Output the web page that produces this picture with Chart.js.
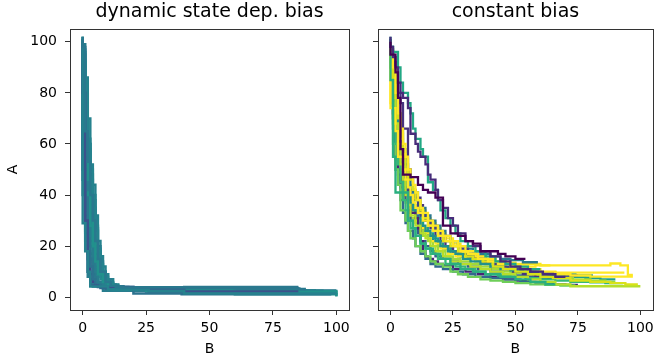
<!DOCTYPE html>
<html>
<head>
<meta charset="utf-8">
<script src="https://cdn.jsdelivr.net/npm/chart.js@4/dist/chart.umd.min.js"></script>
<style>
    body { margin: 0; background: #fff; }
    #wrap { position: relative; width: 659px; height: 360px; overflow: hidden; }
    canvas { position: absolute; top: 0; }
</style>
</head>
<body>
<div id="wrap">
    <canvas id="dynamicChart" style="left:0px"></canvas>
    <canvas id="constantChart" style="left:355px"></canvas>
</div>
<script>
// Tick labels
const xTicks = [0, 25, 50, 75, 100];
const yTicks = [0, 20, 40, 60, 80, 100];

// Panel titles
const dynamicTitle = 'dynamic state dep. bias';
const constantTitle = 'constant bias';

// Runs for "dynamic state dep. bias": [B, A] corner points (drop to A, then move right to B)
const dynamicRuns = [
    [[0,102],[1,98],[1,77],[2,65],[3,53],[4,40],[5,30],[6,22],[7,15],[9,10],[11,6],[13,4.5],[16,4],[60,3.8],[85,3.5],[88,3.2]],
    [[0,101],[0,29],[1,29],[1,20],[2,18],[2,10],[3,10],[3,4.5],[10,4.2],[26,3],[40,2.5],[100,1.5]],
    [[0,100],[0,88],[1,80],[1,45],[2,30],[2,17],[3,10],[3,5],[6,4.5],[20,4],[40,3.2],[75,2.2],[85,2.2]],
    [[0,100],[1,92],[1,70],[2,58],[3,46],[3,35],[4,28],[5,20],[6,14],[8,9],[10,6],[12,4.8],[25,3],[60,2.5],[100,2],[100,0.5]],
    [[0,99],[0,80],[1,66],[2,50],[3,42],[3,30],[4,24],[5,16],[6,10],[8,6],[10,4.5],[30,3.8],[55,3.5],[80,3.3]],
    [[0,101],[1,95],[2,86],[2,74],[3,62],[4,52],[4,42],[5,35],[6,26],[7,18],[8,12],[10,8],[12,5.5],[16,4],[40,3.5],[70,3],[95,2.5]],
    [[0,100],[0,60],[1,50],[1,38],[2,26],[3,18],[4,12],[5,7],[7,4.5],[20,3.6],[39,1.5],[98,1.2]],
    [[0,102],[1,90],[1,62],[2,52],[3,40],[4,32],[5,25],[6,20],[7,14],[9,10],[10,7],[12,5],[15,4],[45,3],[70,2.6],[100,2.4],[100,1]],
    [[0,100],[0,70],[1,60],[2,48],[2,36],[3,28],[4,20],[5,14],[6,9],[8,6],[11,4.2],[30,3.2],[65,2.8],[92,2.6]],
    [[0,101],[1,93],[2,80],[3,70],[3,56],[4,46],[5,38],[5,28],[6,22],[7,16],[8,11],[9,8],[11,6],[13,4.6],[20,4],[50,3.6],[78,3.2]],
    [[0,100],[0,45],[1,40],[1,30],[2,22],[2,14],[3,8],[4,5],[8,4.2],[25,2.5],[55,2.2],[100,1.8]],
    [[0,99],[1,88],[1,64],[2,54],[3,44],[4,36],[4,26],[5,19],[6,14],[7,10],[9,7],[11,5],[14,4],[35,3.4],[60,3],[88,2.7],[88,2],[100,2]],
    [[0,100],[0,85],[1,75],[1,55],[2,44],[3,34],[4,25],[4,16],[5,11],[6,7],[8,5],[12,4.3],[40,3.8],[85,4]],
    [[0,101],[1,97],[2,84],[2,68],[3,58],[4,48],[5,40],[6,32],[6,25],[7,19],[8,13],[10,9],[12,6],[14,4.8],[18,4],[50,3.4],[75,3]],
    [[0,100],[0,75],[1,65],[2,40],[2,22],[3,15],[4,9],[5,6],[8,4.5],[25,3.5],[45,2.8]],
    [[0,100],[1,85],[1,65],[2,55],[2,40],[3,32],[4,22],[5,15],[6,10],[8,6],[11,4.5],[26,2.6],[60,2.2],[100,1.2],[100,0.3]],
    [[0,102],[1,99],[2,80],[2,70],[3,60],[3,50],[4,43],[5,34],[6,27],[7,20],[8,14],[9,10],[11,7],[13,5],[16,4.2],[38,3.8],[62,3.5],[86,3.3]],
    [[0,100],[0,52],[1,46],[1,33],[2,25],[3,17],[3,11],[4,7],[6,5],[9,4.3],[30,3],[70,2.6],[100,2.6]],
    [[0,101],[1,96],[1,83],[2,72],[3,60],[4,50],[5,44],[5,36],[6,28],[7,22],[8,16],[9,12],[10,9],[12,7],[14,5],[16,4.2],[30,3.9],[85,3.9]],
    [[0,100],[1,90],[2,76],[2,62],[3,52],[3,40],[4,33],[5,24],[6,17],[7,12],[8,8],[10,5.5],[12,4.4],[25,3.5],[45,2.4],[80,2]],
    [[0,99],[0,65],[1,58],[1,44],[2,32],[3,24],[4,17],[5,12],[6,8],[7,5.5],[9,4.5],[25,3.8],[50,3],[99,2.2]]
];
const dynamicColors = [
    '#2a788e', '#26828e', '#3b528b', '#21918c', '#287d8e', '#25838e', '#2c728e',
    '#21918c', '#2a788e', '#26828e', '#287d8e', '#23898e', '#2a788e', '#25838e',
    '#3e4a89', '#21918c', '#287d8e', '#2c728e', '#26828e', '#23898e', '#2a788e'
];

// Runs for "constant bias"
const constantRuns = [
    [[0,100],[2,95],[3,88],[4,78],[4,66],[5,58],[5,50],[8,48],[11,47],[13,44],[15,42],[18,41],[21,39],[21,30],[24,28],[27,25],[30,24],[33,22],[36,21],[39,18],[43,18],[46,17],[50,16],[54,15]],
    [[0,102],[1,98],[2,94],[3,90],[4,84],[5,80],[7,78],[8,74],[8,66],[10,64],[11,60],[12,57],[14,55],[15,52],[16,48],[18,46],[19,42],[21,38],[23,35],[25,31],[27,28],[30,25],[33,22],[36,20],[40,18],[44,16],[48,14],[52,12],[56,11],[61,10],[66,9],[70,8]],
    [[0,101],[1,98],[3,96],[4,90],[5,84],[7,80],[8,76],[9,72],[10,66],[12,62],[13,58],[15,55],[15,48],[17,45],[19,42],[20,38],[22,34],[24,31],[26,28],[28,25],[31,22],[34,20],[38,18],[42,16],[46,14],[50,13],[55,12],[60,11]],
    [[0,99],[1,85],[1,70],[2,55],[2,41],[7,41],[7,34],[9,30],[10,27],[12,24],[14,21],[17,19],[20,17],[24,15],[28,13],[33,11],[38,10],[44,9],[50,8],[56,7],[62,6],[66,5]],
    [[0,98],[0,75],[2,74],[3,65],[3,56],[5,55],[6,50],[7,46],[8,43],[9,40],[10,37],[11,35],[13,33],[15,30],[17,28],[19,26],[22,24],[25,22],[28,20],[31,18],[35,17],[39,15],[43,14],[48,13],[52,12],[58,12],[63,12.5],[88,12.5],[88,13.2],[92,13.2],[92,12.5],[95,12.5],[95,8.7],[97,8.7]],
    [[0,100],[1,96],[2,90],[3,80],[4,72],[5,66],[6,60],[7,55],[8,50],[9,47],[10,44],[11,41],[12,38],[13,35],[15,33],[17,30],[19,28],[21,26],[24,24],[27,22],[30,20],[34,18],[38,16],[42,15],[46,14],[50,13],[55,12],[60,11],[66,10],[72,9],[80,8.5],[88,8.1],[97,8.1]],
    [[0,99],[1,94],[2,86],[3,78],[4,70],[5,62],[6,56],[7,50],[9,46],[10,42],[12,38],[13,34],[15,31],[17,28],[19,26],[21,24],[24,22],[27,20],[30,18],[33,16],[37,15],[41,14],[45,12],[50,11],[55,10],[60,9],[65,8],[72,7.5],[80,6.5],[88,6],[94,5.5],[99,5]],
    [[0,100],[1,95],[2,88],[2,75],[3,68],[4,60],[5,52],[6,46],[7,40],[8,36],[10,32],[12,28],[14,25],[16,23],[18,20],[21,18],[24,16],[28,14],[32,13],[36,12],[40,11],[45,10],[50,9],[55,8],[60,7],[66,6],[72,5],[76,4.3],[100,4.3]],
    [[0,100],[1,94],[1,85],[2,76],[2,68],[3,60],[4,52],[5,45],[6,38],[7,34],[8,30],[10,27],[12,24],[14,21],[16,19],[19,17],[22,15],[26,13],[30,12],[34,11],[38,10],[43,9],[48,8.5],[54,8],[60,7.5],[66,7],[72,6.5],[80,6],[86,5.8],[93,5.5]],
    [[0,100],[1,90],[1,70],[2,60],[3,50],[4,44],[4,38],[6,34],[7,30],[8,26],[10,23],[12,20],[14,18],[16,16],[18,14],[21,13],[24,12],[27,10],[31,9],[36,8],[40,7],[45,6.5],[50,6],[56,5.5],[62,5],[68,4.8],[74,4.6]],
    [[0,99],[1,92],[1,80],[2,70],[2,58],[3,50],[4,44],[5,38],[6,33],[7,29],[9,26],[10,23],[12,20],[14,17],[16,15],[18,13],[21,12],[25,11],[29,10],[34,9],[40,8],[46,7.5],[52,7],[58,6],[64,5.5],[70,4.8]],
    [[0,100],[1,94],[1,82],[2,72],[2,62],[3,54],[4,48],[5,43],[7,40],[8,36],[10,33],[11,31],[12,27],[13,22],[14,18],[15,16],[17,15],[19,14],[21,13],[25,12.5],[30,11],[35,10],[40,9],[45,8],[50,7],[55,6.5],[60,6],[65,5.5],[70,5],[75,4.8]],
    [[0,101],[1,97],[2,92],[2,84],[3,78],[4,70],[4,62],[5,55],[6,50],[7,46],[8,42],[9,40],[11,38],[12,35],[14,32],[16,30],[18,28],[20,26],[22,24],[25,22],[28,20],[31,19],[34,18],[38,16],[42,14],[46,13],[50,12],[55,11],[60,10],[65,9.5],[70,9],[75,8.5]],
    [[0,102],[1,98],[2,90],[2,80],[3,74],[3,66],[4,58],[5,52],[6,47],[7,43],[8,40],[9,37],[10,34],[12,31],[14,28],[16,26],[18,24],[20,22],[23,20],[26,18],[29,17],[32,15],[36,14],[40,13],[44,12],[48,11],[53,10.5],[58,10],[63,9.5],[68,9],[74,8.8],[81,8.5]],
    [[0,100],[1,96],[2,88],[3,80],[4,72],[5,65],[6,58],[7,52],[8,48],[9,44],[11,41],[12,38],[14,35],[16,32],[18,30],[20,28],[22,26],[24,24],[27,22],[30,20],[33,19],[36,18],[40,17],[44,16],[48,15],[53,14.5],[59,13.7]],
    [[0,97],[0,80],[1,76],[2,70],[3,62],[4,58],[5,54],[6,50],[7,44],[8,40],[9,36],[10,33],[12,30],[14,27],[16,25],[18,22],[20,21],[23,19],[26,17],[30,16],[34,15],[38,14],[42,13],[46,12],[50,11],[55,10.5],[60,10],[66,9.8],[72,9.6],[80,9.6],[93.6,9.6]],
    [[0,100],[1,95],[2,88],[3,84],[4,80],[5,76],[5,68],[7,66],[7,56],[8,50],[9,46],[10,42],[12,39],[13,36],[14,33],[16,30],[18,27],[20,24],[22,22],[25,20],[28,18],[31,17],[34,16],[37,15],[41,14],[45,12],[49,11],[53,10],[58,9],[63,8],[68,7.6]],
    [[0,100],[1,90],[1,76],[2,66],[3,56],[4,50],[5,46],[6,42],[7,38],[8,34],[9,30],[11,27],[12,25],[14,22],[16,20],[18,18],[21,16],[24,15],[27,14],[31,13],[35,12],[40,11],[45,10],[50,9],[55,8.5],[60,8],[66,7.6]],
    [[0,98],[1,90],[1,78],[2,68],[3,60],[4,52],[5,45],[6,40],[7,37],[8,34],[10,31],[11,29],[13,26],[15,24],[17,22],[19,20],[22,18],[25,16],[28,15],[32,14],[36,13],[40,12],[44,11],[48,10],[53,9.5],[58,9],[63,8.5],[68,8],[73,7.5],[80,7],[86,6.5],[90,6]],
    [[0,101],[1,96],[2,90],[3,84],[3,74],[4,66],[5,58],[6,52],[7,47],[8,43],[9,39],[10,36],[12,33],[13,30],[15,27],[17,25],[19,23],[21,21],[24,19],[27,17],[30,16],[34,15],[38,14],[42,13],[46,12],[50,11],[55,10],[60,9.5],[66,9],[72,8.5],[78,8],[84,7.5],[90,7]],
    [[0,100],[1,93],[2,85],[2,72],[3,64],[4,56],[5,50],[6,45],[8,42],[9,38],[10,35],[11,32],[13,29],[15,26],[17,24],[19,22],[22,20],[25,19],[28,17],[32,16],[36,15],[40,14],[44,13],[48,12],[52,11],[57,10],[62,9],[67,8.2],[72,7.5]],
    [[0,100],[1,97],[1,88],[2,82],[3,76],[4,70],[5,64],[6,58],[7,54],[8,50],[9,46],[10,42],[11,39],[12,36],[14,34],[16,31],[18,29],[20,27],[22,25],[25,23],[28,21],[31,19],[34,17],[38,16],[42,15],[46,14],[50,13.5],[55,13],[60,13],[64,12.5]]
];
const constantColors = [
    '#440154', '#472c7a', '#22a884', '#29af7f', '#fde725', '#fde725', '#d8e219',
    '#b5de2b', '#35b779', '#6ece58', '#31688e', '#482475', '#414487', '#21918c',
    '#2a788e', '#fde725', '#46337e', '#365c8d', '#a0da39', '#1f9e89', '#2c718e', '#f8e621'
];

const FONT = 'DejaVu Sans';
const AXIS_COLOR = '#333';
const TEXT_COLOR = '#000';

// Khung bao quanh vùng vẽ (4 cạnh)
const boxPlugin = {
    id: 'box',
    afterDraw(chart) {
        const { ctx, chartArea: a } = chart;
        ctx.save();
        ctx.strokeStyle = AXIS_COLOR;
        ctx.lineWidth = 1;
        ctx.strokeRect(Math.round(a.left) + 0.5, Math.round(a.top) + 0.5,
            Math.round(a.right - a.left), Math.round(a.bottom - a.top));
        ctx.restore();
    }
};

function makeDatasets(runs, colors, width) {
    return runs.map((run, i) => ({
        data: run.map(p => ({ x: p[0], y: p[1] })),
        borderColor: colors[i],
        borderWidth: width,
        stepped: 'after',
        pointRadius: 0,
        fill: false
    }));
}

function makeChart(canvasId, canvasWidth, yWidth, padRight, title, runs, colors, lineWidth, showYLabels) {
    const canvas = document.getElementById(canvasId);
    canvas.width = canvasWidth;
    canvas.height = 360;
    canvas.style.width = canvasWidth + 'px';
    canvas.style.height = '360px';

    return new Chart(canvas.getContext('2d'), {
        type: 'line',
        data: { datasets: makeDatasets(runs, colors, lineWidth) },
        options: {
            responsive: false,
            animation: false,
            layout: { padding: { left: 0, right: padRight, top: 0, bottom: 0 } },
            plugins: {
                legend: { display: false },
                tooltip: { enabled: false },
                title: {
                    display: true,
                    text: title,
                    fullSize: false,
                    color: TEXT_COLOR,
                    font: { family: FONT, size: 19, weight: 'normal' },
                    padding: { top: 1, bottom: 5.2 }
                }
            },
            scales: {
                x: {
                    type: 'linear',
                    min: -5,
                    max: 105,
                    afterBuildTicks: s => { s.ticks = xTicks.map(v => ({ value: v })); },
                    afterFit: s => { s.height = 50; },
                    grid: { drawOnChartArea: false, drawTicks: true, tickLength: 5, color: AXIS_COLOR },
                    border: { color: AXIS_COLOR },
                    ticks: { color: TEXT_COLOR, padding: 5, maxRotation: 0, font: { family: FONT, size: 14 } },
                    title: { display: true, text: 'B', color: TEXT_COLOR, padding: { top: 0, bottom: 2.5 }, font: { family: FONT, size: 14 } }
                },
                y: {
                    type: 'linear',
                    min: -5,
                    max: 105,
                    afterBuildTicks: s => { s.ticks = yTicks.map(v => ({ value: v })); },
                    afterFit: s => { s.width = yWidth; },
                    grid: { drawOnChartArea: false, drawTicks: true, tickLength: 5, color: AXIS_COLOR },
                    border: { color: AXIS_COLOR },
                    ticks: {
                        color: TEXT_COLOR,
                        padding: 8,
                        font: { family: FONT, size: 14 },
                        callback: v => showYLabels ? String(v) : ''
                    },
                    title: { display: showYLabels, text: 'A', color: TEXT_COLOR, padding: { top: 4.6, bottom: 0 }, font: { family: FONT, size: 14 } }
                }
            }
        },
        plugins: [boxPlugin]
    });
}

makeChart('dynamicChart', 355, 70, 4, dynamicTitle, dynamicRuns, dynamicColors, 2.5, true);
makeChart('constantChart', 304, 23, 1, constantTitle, constantRuns, constantColors, 2.3, false);
</script>
</body>
</html>
